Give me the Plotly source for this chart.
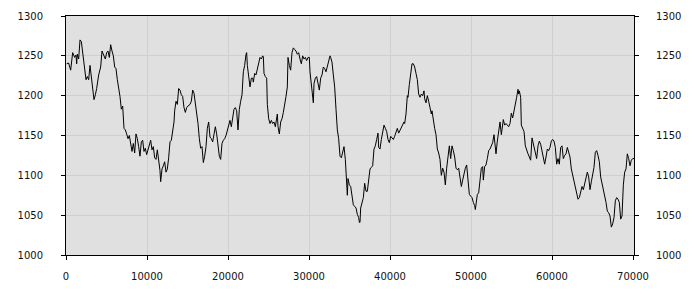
import plotly.graph_objects as go

x_vals = [
    82, 329, 576, 823, 1070, 1234, 1317, 1399, 1564, 1728, 1893, 2057, 2304, 2469, 2634, 2798, 2963, 3127, 3292, 3457,
    3621, 3786, 4033, 4280, 4444, 4609, 4856, 5020, 5185, 5349, 5514, 5679, 5843, 6008, 6172, 6337, 6502, 6666, 6831, 6995,
    7160, 7325, 7489, 7654, 7818, 7983, 8148, 8312, 8477, 8641, 8806, 8971, 9135, 9300, 9464, 9629, 9794, 9958, 10123, 10287,
    10452, 10617, 10781, 10946, 11110, 11275, 11440, 11604,
    11687, 11852, 12016, 12181, 12346, 12510, 12675, 12839, 13004, 13169, 13333, 13416, 13580, 13745, 13909, 14074, 14239, 14403,
    14568, 14732, 14897, 15062, 15308, 15473, 15638, 15802, 15967, 16131, 16296, 16461, 16625, 16790, 16954, 17119, 17284, 17448,
    17613, 17777, 17942, 18107, 18271, 18436, 18600, 18765, 18930, 19094, 19259, 19423, 19588, 19753, 19917, 20082, 20246, 20411,
    20576, 20740, 20905, 21069, 21234, 21399, 21563, 21728, 21893, 22057, 22222, 22304, 22386, 22551, 22715, 22880, 23045,
    23129, 23293, 23458, 23622, 23787, 23952, 24116, 24281, 24363, 24445, 24610, 24775, 24857, 25022, 25186, 25351, 25515, 25680,
    25845, 26009, 26091, 26174, 26338, 26503, 26668, 26832, 26997, 27161, 27326, 27408, 27573, 27737, 27902, 28067, 28231, 28396,
    28560, 28725, 28890, 29054, 29219, 29383, 29548, 29713, 29877, 30042, 30124, 30289, 30453, 30536, 30618, 30783, 30947, 31112,
    31276, 31441, 31606, 31770, 31935, 32099, 32264, 32429, 32593, 32675, 32840, 33005, 33169, 33334, 33498, 33663, 33828, 33992,
    34157, 34321, 34486, 34568, 34733,
    34816, 34981, 35145, 35310, 35474, 35639, 35804, 35968, 36133, 36215, 36297, 36380, 36544, 36709, 36873, 37038, 37203, 37367,
    37532, 37696, 37861, 38026, 38190, 38355, 38519, 38602, 38766, 38931, 39096, 39260, 39425, 39589, 39754, 39919, 40083, 40248,
    40412, 40577, 40742, 40906, 41071, 41235, 41400, 41565, 41729, 41811, 41976, 42141, 42223, 42388, 42552, 42634, 42717, 42881,
    43046, 43211, 43375, 43540, 43704, 43869, 44034, 44198, 44281, 44445, 44610, 44774, 44939, 45104, 45186, 45351, 45515, 45680,
    45845, 46009, 46174, 46338,
    46503, 46668, 46832, 46997, 47162, 47326, 47491, 47655, 47820, 47985, 48149, 48314, 48478, 48643, 48808, 48972, 49137, 49301,
    49466, 49631, 49795, 49960, 50124, 50289, 50454, 50536, 50618, 50783, 50947, 51112, 51277, 51441, 51523, 51688, 51853, 52017,
    52182, 52346, 52511, 52676, 52840, 53005, 53087, 53252, 53416, 53581, 53746, 53828, 53993, 54157, 54322, 54486, 54651, 54816,
    54980, 55145, 55309, 55474, 55639, 55803, 55885, 55968, 56132, 56215, 56379, 56544, 56709, 56873, 57038, 57202, 57367, 57532,
    57614, 57779, 57943,
    58108, 58273, 58437, 58602, 58767, 58931, 59096, 59260, 59425, 59590, 59754, 59919, 60083, 60248, 60413, 60577, 60742, 60906,
    61071, 61236, 61400, 61565, 61729, 61894, 62059, 62223, 62388, 62552, 62717, 62882, 63046, 63211, 63375, 63540, 63705, 63869,
    64034, 64198, 64363, 64528, 64692, 64857, 65021, 65186, 65351, 65515, 65680, 65844, 66009, 66174, 66338, 66503, 66667, 66832,
    66997, 67161, 67326, 67490, 67655, 67820, 67984, 68149, 68313, 68478, 68643, 68807, 68972, 69136, 69301, 69466, 69630, 69795,
    69959, 70124,
]

y_vals = [
    1240, 1241, 1232, 1254, 1248, 1251, 1240, 1252, 1246, 1270, 1268, 1254, 1234, 1220, 1224, 1220, 1238, 1222, 1211, 1195,
    1201, 1209, 1226, 1236, 1256, 1252, 1246, 1254, 1256, 1248, 1264, 1256, 1250, 1236, 1234, 1220, 1211, 1199, 1183, 1187,
    1159, 1157, 1152, 1146, 1150, 1142, 1130, 1140, 1128, 1152, 1146, 1136, 1124, 1142, 1144, 1130, 1134, 1126, 1132, 1140,
    1144, 1132, 1136, 1122, 1120, 1132, 1120, 1106,
    1092, 1108, 1112, 1117, 1104, 1108, 1122, 1142, 1144, 1157, 1167, 1181, 1193, 1189, 1209, 1207, 1201, 1199,
    1185, 1179, 1185, 1187, 1189, 1193, 1207, 1203, 1191, 1177, 1165, 1146, 1134, 1136, 1116, 1124, 1136, 1159,
    1167, 1148, 1146, 1142, 1152, 1161, 1152, 1140, 1124, 1120, 1140, 1144, 1146, 1150, 1157, 1165, 1169, 1161,
    1171, 1183, 1185, 1181, 1157, 1183, 1193, 1201, 1230, 1238, 1252, 1254, 1238, 1222, 1211, 1222, 1222,
    1217, 1228, 1226, 1234, 1244, 1248, 1246, 1250, 1249, 1228, 1224, 1222, 1189, 1171, 1165, 1169, 1165, 1167,
    1161, 1175, 1177, 1161, 1152, 1167, 1171, 1179, 1187, 1199, 1211, 1248, 1238, 1232, 1254, 1260, 1258, 1256,
    1252, 1254, 1246, 1240, 1250, 1246, 1248, 1244, 1248, 1248, 1230, 1215, 1203, 1191, 1215, 1222, 1224, 1213,
    1207, 1222, 1226, 1236, 1234, 1230, 1236, 1242, 1250, 1248, 1242, 1226, 1211, 1183, 1157, 1146, 1124, 1122,
    1128, 1136, 1120, 1100, 1075,
    1096, 1088, 1086, 1076, 1063, 1061, 1059, 1051, 1047, 1041, 1041, 1059, 1067, 1072, 1090, 1080, 1080, 1092,
    1108, 1110, 1112, 1133, 1137, 1145, 1153, 1135, 1133, 1145, 1155, 1163, 1159, 1155, 1145, 1141, 1149, 1147,
    1145, 1149, 1155, 1159, 1153, 1157, 1159, 1163, 1167, 1165, 1177, 1200, 1198, 1214, 1228, 1238, 1240, 1240,
    1236, 1228, 1220, 1202, 1198, 1202, 1200, 1206, 1196, 1191, 1200, 1193, 1183, 1177, 1181, 1167, 1159, 1151,
    1133, 1128, 1120, 1100,
    1109, 1104, 1088, 1109, 1125, 1137, 1121, 1137, 1131, 1123, 1109, 1107, 1109, 1096, 1086, 1094, 1104, 1109,
    1113, 1088, 1076, 1074, 1072, 1066, 1062, 1057, 1066, 1076, 1078, 1098, 1109, 1111, 1094, 1111, 1113, 1121,
    1131, 1133, 1137, 1141, 1151, 1139, 1127, 1143, 1157, 1167, 1151, 1159, 1170, 1163, 1165, 1163, 1161, 1165,
    1178, 1172, 1180, 1186, 1198, 1208, 1202, 1206, 1198, 1163, 1159, 1155, 1137, 1131, 1127, 1123, 1119, 1147,
    1143, 1137, 1129,
    1121, 1137, 1143, 1139, 1129, 1121, 1114, 1123, 1133, 1131, 1135, 1143, 1145, 1143, 1135, 1114, 1121, 1114,
    1135, 1137, 1121, 1125, 1127, 1135, 1129, 1123, 1108, 1100, 1090, 1084, 1074, 1070, 1072, 1080, 1086, 1082,
    1090, 1096, 1104, 1098, 1082, 1092, 1100, 1110, 1129, 1131, 1125, 1117, 1098, 1090, 1082, 1076, 1066, 1055,
    1053, 1049, 1035, 1039, 1047, 1068, 1072, 1070, 1066, 1045, 1049, 1088, 1104, 1108, 1127, 1121, 1112, 1119,
    1121, 1121,
]

x_ticks = [0, 10000, 20000, 30000, 40000, 50000, 60000, 70000]
y_ticks = [1000, 1050, 1100, 1150, 1200, 1250, 1300]
x_range = [0, 70124]
y_range = [1000, 1300]

font = dict(family="DejaVu Sans", size=10, color="#111111")
grid = "#cfcfcf"

fig = go.Figure()
fig.add_trace(go.Scatter(x=x_vals, y=y_vals, mode="lines",
                         line=dict(color="black", width=1), showlegend=False,
                         hoverinfo="skip"))
fig.add_trace(go.Scatter(x=x_vals, y=y_vals, mode="lines", yaxis="y2",
                         line=dict(color="rgba(0,0,0,0)", width=1), showlegend=False,
                         hoverinfo="skip"))

fig.update_layout(
    width=700, height=300,
    margin=dict(l=66, r=66, t=10, b=45),
    paper_bgcolor="white",
    plot_bgcolor="#e0e0e0",
    font=font,
    xaxis=dict(range=x_range, tickvals=x_ticks, ticktext=[str(v) for v in x_ticks],
               showgrid=True, gridcolor=grid, gridwidth=1, zeroline=False,
               showline=True, linecolor="black", linewidth=1, mirror=True,
               ticks="outside", ticklen=4, tickcolor="black", tickfont=font,
               ticklabelstandoff=8),
    yaxis=dict(range=y_range, tickvals=y_ticks, ticktext=[str(v) for v in y_ticks],
               showgrid=True, gridcolor=grid, gridwidth=1, zeroline=False,
               showline=True, linecolor="black", linewidth=1,
               ticks="outside", ticklen=4, tickcolor="black", tickfont=font,
               ticklabelstandoff=16),
    yaxis2=dict(range=y_range, tickvals=y_ticks, ticktext=[str(v) for v in y_ticks],
                overlaying="y", side="right", showgrid=False, zeroline=False,
                showline=True, linecolor="black", linewidth=1,
                ticks="outside", ticklen=4, tickcolor="black", tickfont=font,
                ticklabelstandoff=15),
)

fig.write_html("out.html")
